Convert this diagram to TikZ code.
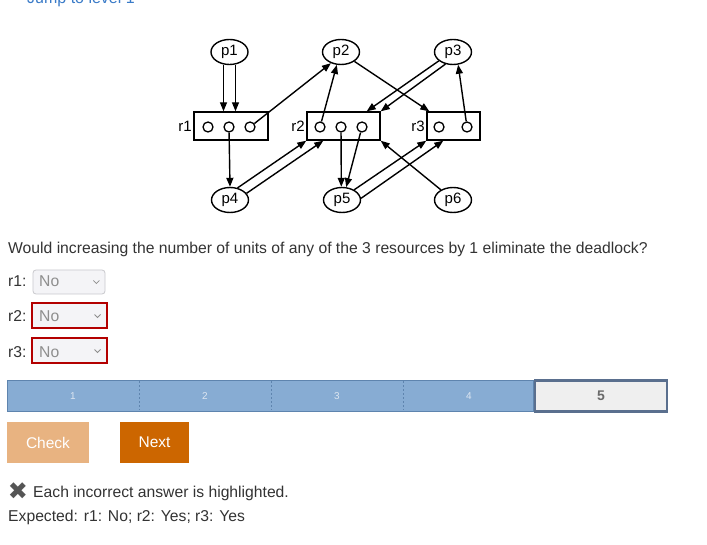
\documentclass[tikz,border=0pt]{standalone}
\usepackage{fontspec}
\setmainfont{Liberation Sans}
\newfontfamily\symfont{DejaVu Sans}
\usetikzlibrary{arrows.meta,shapes.geometric,calc}
\definecolor{txt}{HTML}{333333}
\definecolor{linkblue}{HTML}{3A7BC8}
\definecolor{selfill}{HTML}{F4F4F7}
\definecolor{selborder}{HTML}{C9C9CD}
\definecolor{selred}{HTML}{B30000}
\definecolor{notxt}{HTML}{8E8E8E}
\definecolor{barblue}{HTML}{87ACD3}
\definecolor{barline}{HTML}{5E84AE}
\definecolor{barnum}{HTML}{DCE6F1}
\definecolor{curborder}{HTML}{5A6F8E}
\definecolor{curfill}{HTML}{EFEFEF}
\definecolor{curnum}{HTML}{6A6A6A}
\definecolor{checkfill}{HTML}{E8B381}
\definecolor{nextfill}{HTML}{CC6600}
\definecolor{xgray}{HTML}{555555}
\begin{document}
\begin{tikzpicture}[x=1pt,y=-1pt,
  proc/.style={ellipse, draw, line width=1.4pt, minimum width=37pt, minimum height=25pt, inner sep=0pt, font=\fontsize{15}{15}\selectfont},
  res/.style={rectangle, draw, line width=1.4pt, minimum height=28pt, inner sep=0pt},
  dot/.style={circle, draw, line width=1.3pt, minimum size=10pt, inner sep=0pt},
  rlab/.style={anchor=east, font=\fontsize{15}{15}\selectfont, inner sep=1.5pt},
  arr/.style={-{Triangle[length=9pt,width=7pt]}, line width=1.4pt},
  ui/.style={font=\fontsize{15.7}{18}\selectfont, text=txt, inner sep=0pt, anchor=base west},
  sel/.style={rectangle, rounded corners=3pt, draw=selborder, fill=selfill, line width=0.8pt, minimum width=72pt, minimum height=24pt, inner sep=0pt},
  selbad/.style={rectangle, draw=selred, fill=selfill, line width=2pt, minimum width=75pt, minimum height=25pt, inner sep=0pt},
  notext/.style={font=\fontsize{15.7}{18}\selectfont, text=notxt, inner sep=0pt, anchor=base west},
  chev/.style={draw=notxt, line width=0.8pt},
  segnum/.style={font=\fontsize{10}{10}\selectfont, text=barnum, inner sep=0pt},
  btn/.style={rectangle, minimum height=41pt, inner sep=0pt, outer sep=0pt, text=white, font=\fontsize{15.5}{18}\selectfont}
]
\useasboundingbox (0,0) rectangle (707,545);
\fill[white] (0,0) rectangle (707,545);

% cut-off link at the top
\node[font=\fontsize{16}{18}\selectfont, text=linkblue, inner sep=0pt, anchor=base west] (jump) at (27,3.5) {Jump to level 1};

% ---------- graph ----------
\node[proc] (p1) at (229.5,52) {p1};
\node[proc] (p2) at (341,52) {p2};
\node[proc] (p3) at (453,52) {p3};
\node[proc] (p4) at (230,200) {p4};
\node[proc] (p5) at (342,200) {p5};
\node[proc] (p6) at (453,200) {p6};

\node[res, minimum width=74pt] (r1) at (231,126) {};
\node[res, minimum width=73pt] (r2) at (343.5,126) {};
\node[res, minimum width=53pt] (r3) at (453.5,126) {};
\node[rlab] (r1l) at (r1.west) {r1};
\node[rlab] (r2l) at (r2.west) {r2};
\node[rlab] (r3l) at (r3.west) {r3};

\node[dot] (r1c1) at (208,127) {};
\node[dot] (r1c2) at (229,127) {};
\node[dot] (r1c3) at (250,127) {};
\node[dot] (r2c1) at (320,127) {};
\node[dot] (r2c2) at (341,127) {};
\node[dot] (r2c3) at (362,127) {};
\node[dot] (r3c1) at (439,127) {};
\node[dot] (r3c2) at (467,127) {};

% p1 requests r1 twice
\draw[arr] ($(p1.south)+(-6,0)$) -- ($(p1.south |- r1.north)+(-6,0)$);
\draw[arr] ($(p1.south)+(6,0)$) -- ($(p1.south |- r1.north)+(6,0)$);
% allocations / requests
\draw[arr] (r1c3) -- (p2.228);
\draw[arr] (r1c2) -- (p4.north);
\draw[arr] (p4.58) -- (r2.south west);
\draw[arr] (p4.22) -- ($(r2.south west)+(17,0)$);
\draw[arr] (r2c1) -- (p2.252);
\draw[arr] (p2.-35) -- ($(r3.north west)+(3,0)$);
\draw[arr] (p3.212) -- ($(r2.north east)+(-14,0)$);
\draw[arr] (p3.238) -- (r2.north east);
\draw[arr] (r3c2) -- (p3.292);
\draw[arr] (r2c2) -- (p5.93);
\draw[arr] (r2c3) -- (p5.72);
\draw[arr] (p5.40) -- (r3.south west);
\draw[arr] (p5.5) -- ($(r3.south west)+(17,0)$);
\draw[arr] (p6.140) -- (r2.south east);

% ---------- question ----------
\node[ui] (q) at (8,254) {Would increasing the number of units of any of the 3 resources by 1 eliminate the deadlock?};

\node[ui] (l1) at (8,287) {r1:};
\node[sel] (s1) at (69,282) {};
\node[notext] (n1) at (39,287) {No};
\draw[chev] ($(s1.east)+(-12,-1.5)$) -- ($(s1.east)+(-9,1.5)$) -- ($(s1.east)+(-6,-1.5)$);

\node[ui] (l2) at (8,322) {r2:};
\node[selbad] (s2) at (69,316) {};
\node[notext] (n2) at (39,322) {No};
\draw[chev] ($(s2.east)+(-13,-1.5)$) -- ($(s2.east)+(-10,1.5)$) -- ($(s2.east)+(-7,-1.5)$);

\node[ui] (l3) at (8,357) {r3:};
\node[selbad] (s3) at (69,351) {};
\node[notext] (n3) at (39,357) {No};
\draw[chev] ($(s3.east)+(-13,-1.5)$) -- ($(s3.east)+(-10,1.5)$) -- ($(s3.east)+(-7,-1.5)$);

% ---------- progress bar ----------
\node[rectangle, draw=barline, fill=barblue, line width=0.8pt, minimum width=526pt, minimum height=31pt, inner sep=0pt, outer sep=0pt, anchor=north west] (bar) at (7,380) {};
\draw[barline, dash pattern=on 2pt off 2pt, line width=0.6pt] (139,381) -- (139,410);
\draw[barline, dash pattern=on 2pt off 2pt, line width=0.6pt] (271,381) -- (271,410);
\draw[barline, dash pattern=on 2pt off 2pt, line width=0.6pt] (403,381) -- (403,410);
\node[segnum] (b1) at (73,396) {1};
\node[segnum] (b2) at (205,396) {2};
\node[segnum] (b3) at (337,396) {3};
\node[segnum] (b4) at (469,396) {4};
\node[rectangle, draw=curborder, fill=curfill, line width=2.6pt, minimum width=132pt, minimum height=31pt, inner sep=0pt, outer sep=0pt, anchor=north west, font=\bfseries\fontsize{14}{14}\selectfont, text=curnum] (b5) at (535,380.5) {5};

% ---------- buttons ----------
\node[btn, fill=checkfill, minimum width=82pt, anchor=north west] (check) at (7,422) {Check};
\node[btn, fill=nextfill, minimum width=69pt, anchor=north west] (next) at (120,422) {Next};

% ---------- feedback ----------
\node[font=\symfont\fontsize{24}{24}\selectfont, text=xgray, inner sep=0pt] (xmark) at (18,491) {✖};
\node[ui] (fb) at (33,497) {Each incorrect answer is highlighted.};
\node[ui] (exp) at (8,521) {Expected: r1: No; r2: Yes; r3: Yes};
\end{tikzpicture}
\end{document}
